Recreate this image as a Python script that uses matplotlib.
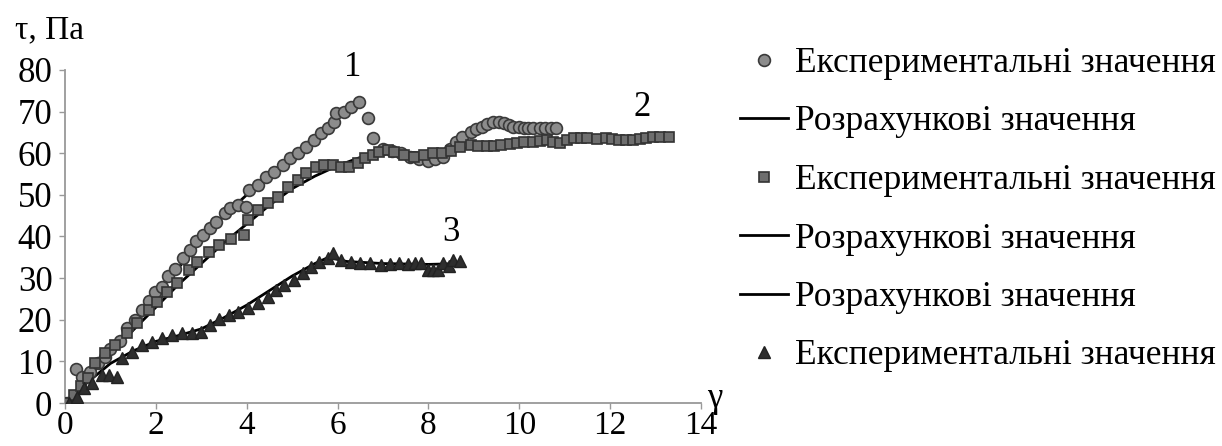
import matplotlib
matplotlib.use("Agg")
import matplotlib.pyplot as plt

plt.rcParams['font.family'] = ['Liberation Serif', 'DejaVu Serif']

# experimental points, curve 1 (circles)
x1 = [0.05, 0.24, 0.37, 0.55, 0.72, 0.88, 1.0, 1.2, 1.36, 1.54, 1.69, 1.84, 1.98, 2.13,
      2.27, 2.42, 2.6, 2.75, 2.89, 3.04, 3.19, 3.33, 3.52, 3.63, 3.8, 3.99, 4.06, 4.24,
      4.43, 4.61, 4.8, 4.95, 5.12, 5.3, 5.49, 5.64, 5.78, 5.93, 5.97, 6.14, 6.29, 6.48,
      6.66, 6.77, 7.0, 7.2, 7.4, 7.6, 7.8, 7.98, 8.15, 8.33, 8.47, 8.6, 8.75, 8.93, 9.05,
      9.18, 9.3, 9.43, 9.55, 9.66, 9.77, 9.87, 10.0, 10.1, 10.2, 10.3, 10.45, 10.57,
      10.7, 10.8]
y1 = [0.0, 8.2, 6.3, 7.5, 9.5, 11.0, 13.0, 15.0, 18.0, 20.0, 22.4, 24.5, 26.7, 27.8,
      30.4, 32.3, 34.8, 36.8, 38.8, 40.4, 42.0, 43.6, 45.6, 46.8, 47.6, 47.2, 51.2, 52.4,
      54.3, 55.6, 57.2, 58.9, 60.0, 61.6, 63.2, 64.8, 66.0, 67.6, 69.6, 70.0, 71.2, 72.2,
      68.4, 63.6, 61.0, 60.5, 60.0, 59.0, 58.5, 58.2, 58.5, 59.2, 61.0, 62.8, 64.0, 65.0,
      65.8, 66.4, 67.0, 67.5, 67.4, 67.3, 66.8, 66.4, 66.2, 66.0, 66.0, 66.0, 66.0, 66.0,
      66.0, 66.0]

# experimental points, curve 2 (squares)
x2 = [0.05, 0.2, 0.35, 0.5, 0.66, 0.88, 1.1, 1.36, 1.58, 1.84, 2.02, 2.24, 2.46, 2.72,
      2.9, 3.16, 3.4, 3.65, 3.95, 4.03, 4.25, 4.47, 4.69, 4.91, 5.13, 5.31, 5.53, 5.7,
      5.9, 6.07, 6.25, 6.45, 6.6, 6.77, 6.91, 7.1, 7.24, 7.46, 7.68, 7.9, 8.1, 8.3, 8.5,
      8.7, 8.93, 9.1, 9.3, 9.45, 9.6, 9.8, 9.95, 10.1, 10.3, 10.45, 10.6, 10.75, 10.9,
      11.05, 11.2, 11.35, 11.5, 11.7, 11.9, 12.05, 12.2, 12.35, 12.5, 12.65, 12.8,
      12.95, 13.1, 13.3]
y2 = [0.0, 2.0, 4.0, 6.0, 9.6, 12.0, 14.0, 16.8, 19.2, 22.4, 24.3, 26.7, 28.8, 32.0,
      33.9, 36.3, 38.0, 39.5, 40.4, 44.0, 46.4, 48.0, 49.6, 52.0, 53.6, 55.2, 56.8, 57.2,
      57.2, 56.8, 56.8, 57.6, 58.8, 59.6, 60.4, 60.8, 60.4, 59.6, 59.0, 59.5, 60.0, 60.0,
      60.5, 61.5, 62.0, 61.8, 61.7, 61.8, 62.0, 62.2, 62.5, 62.6, 62.8, 63.0, 63.2, 62.8,
      62.5, 63.2, 63.7, 63.7, 63.7, 63.5, 63.7, 63.4, 63.2, 63.2, 63.2, 63.4, 63.7,
      63.8, 64.0, 64.0]

# experimental points, curve 3 (triangles)
x3 = [0.08, 0.26, 0.41, 0.6, 0.81, 0.96, 1.14, 1.25, 1.47, 1.69, 1.91, 2.13, 2.35, 2.57,
      2.79, 3.0, 3.19, 3.38, 3.6, 3.81, 4.03, 4.25, 4.47, 4.65, 4.82, 5.04, 5.24, 5.42,
      5.59, 5.78, 5.9, 6.07, 6.29, 6.5, 6.72, 6.95, 7.15, 7.35, 7.55, 7.7, 7.83, 7.98,
      8.1, 8.2, 8.33, 8.45, 8.55, 8.7]
y3 = [0.0, 1.5, 3.5, 4.8, 6.7, 6.7, 6.3, 10.8, 12.3, 13.9, 14.7, 15.6, 16.3, 16.8,
      16.8, 17.1, 18.7, 20.3, 21.1, 21.9, 22.8, 24.0, 25.5, 27.2, 28.4, 29.6, 31.2, 32.7,
      33.9, 34.8, 36.0, 34.4, 33.9, 33.6, 33.6, 33.2, 33.4, 33.6, 33.4, 33.6, 33.6, 32.0,
      32.0, 32.0, 33.6, 33.0, 34.4, 34.0]

# calculated curves
xc1 = [0, 0.5, 1, 1.5, 2, 2.5, 3, 3.5, 4, 4.5, 5, 5.5, 6, 6.5]
yc1 = [0, 6, 12, 19, 26, 32.5, 39, 45, 50, 55, 59.5, 64, 68.5, 72]
xc2 = [0, 0.5, 1, 1.5, 2, 2.5, 3, 3.5, 4, 4.5, 5, 5.5, 6, 6.5, 7, 8, 9, 10, 11, 12, 13.3]
yc2 = [0, 6, 12, 17.5, 23, 28.5, 33.5, 38.5, 43, 47.5, 51.5, 54.5, 57, 59, 60.5, 60,
       61.5, 62.5, 63, 63.3, 64]
xc3 = [0, 0.5, 1, 1.5, 2, 2.5, 3, 3.5, 4, 4.5, 5, 5.5, 5.8, 6.2, 7, 8, 8.7]
yc3 = [0, 5, 9.5, 12.5, 14.8, 16.2, 17.8, 20.5, 23.5, 27, 30.5, 33.5, 35, 34, 33.5, 33.3, 33.5]

exp_label = "Експериментальні значення"
calc_label = "Розрахункові значення"

fig = plt.figure(figsize=(12.22, 4.46), dpi=100)
ax = fig.add_axes([65 / 1222, 1 - 403 / 446, 636 / 1222, 333 / 446])

lc1, = ax.plot(xc1, yc1, color="black", lw=2, zorder=2)
lc2, = ax.plot(xc2, yc2, color="black", lw=2, zorder=2)
lc3, = ax.plot(xc3, yc3, color="black", lw=2, zorder=2)
p1, = ax.plot(x1, y1, "o", ms=8.5, mfc="#8c8c8c", mec="#3a3a3a", mew=1.2, zorder=3)
p2, = ax.plot(x2, y2, "s", ms=7, mfc="#6e6e6e", mec="#333333", mew=1.2, zorder=3)
p3, = ax.plot(x3, y3, "^", ms=8.5, mfc="#2e2e2e", mec="#222222", mew=1.0, zorder=4)

ax.set_xlim(0, 14)
ax.set_ylim(0, 80)
ax.set_xticks(range(0, 15, 2))
ax.set_yticks(range(0, 81, 10))
for s in ["top", "right"]:
    ax.spines[s].set_visible(False)
for s in ["left", "bottom"]:
    ax.spines[s].set_color("#999999")
    ax.spines[s].set_linewidth(1.3)
ax.tick_params(colors="#999999", labelcolor="black", length=4, width=1)
ax.tick_params(axis="y", labelsize=25, pad=5)
ax.tick_params(axis="x", labelsize=24, pad=1.5)

ax.text(6.34, 80.5, "1", fontsize=25, ha="center", va="center")
ax.text(12.7, 71, "2", fontsize=25, ha="center", va="center")
ax.text(8.49, 41, "3", fontsize=25, ha="center", va="center")
ax.text(1.01, -0.012, "γ", fontsize=25, transform=ax.transAxes, ha="left", va="baseline")
fig.text(15 / 1222, 1 - 38 / 446, "τ, Па", fontsize=24, ha="left", va="baseline")

fig.legend([p1, lc1, p2, lc2, lc3, p3],
           [exp_label, calc_label, exp_label, calc_label, calc_label, exp_label],
           loc="upper left", bbox_to_anchor=(740 / 1222, 1 - 47 / 446),
           frameon=False, fontsize=25.5, labelspacing=0.72, handlelength=1.36,
           handletextpad=0.2, borderpad=0, borderaxespad=0)

fig.savefig("out.png", dpi=100)
